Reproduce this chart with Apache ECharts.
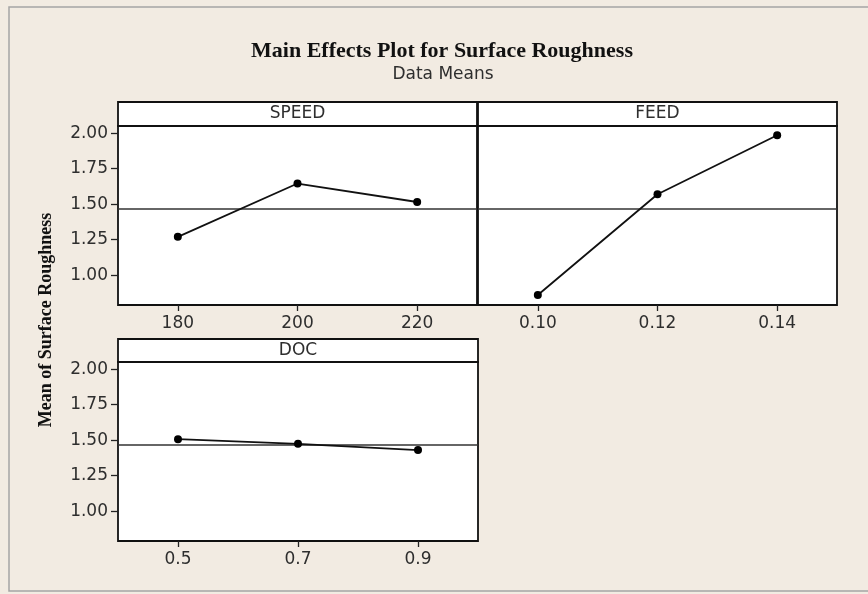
<!DOCTYPE html>
<html>
<head>
<meta charset="utf-8">
<script src="https://cdn.jsdelivr.net/npm/echarts@6/dist/echarts.min.js"></script>
<style>
  html, body { margin: 0; padding: 0; background: #f2ebe2; }
  #chart { width: 868px; height: 594px; }
</style>
</head>
<body>
<div id="chart"></div>
<script>
// factor levels and the mean response at each level
const speedLevels = ['180', '200', '220'];
const speedMeans = [1.27, 1.645, 1.515];
const feedLevels = ['0.10', '0.12', '0.14'];
const feedMeans = [0.86, 1.57, 1.985];
const docLevels = ['0.5', '0.7', '0.9'];
const docMeans = [1.507, 1.474, 1.43];
// grand mean (reference line) and y tick values
const grandMean = 1.472;
const yTicks = [1.00, 1.25, 1.50, 1.75, 2.00];

const FONT = 'DejaVu Sans';
const TXT = '#2e2e2e';

// panel layout: grid box + strip header above it
const panels = [
  {name: 'SPEED', levels: speedLevels, means: speedMeans, left: 118, top: 126, width: 359, height: 179, strip: 24, yLabels: true},
  {name: 'FEED', levels: feedLevels, means: feedMeans, left: 478, top: 126, width: 359, height: 179, strip: 24, yLabels: false},
  {name: 'DOC', levels: docLevels, means: docMeans, left: 118, top: 362, width: 360, height: 179, strip: 23, yLabels: true}
];

const myChart = echarts.init(document.getElementById('chart'));

const grids = panels.map(p => ({
  left: p.left, top: p.top, width: p.width, height: p.height,
  show: true, backgroundColor: '#fff', borderColor: '#111', borderWidth: 1.8
}));

const xAxes = panels.map((p, i) => ({
  type: 'category',
  gridIndex: i,
  data: p.levels,
  boundaryGap: true,
  axisLine: {show: false},
  axisTick: {show: true, alignWithLabel: true, length: 6, lineStyle: {color: '#222', width: 1.3}},
  axisLabel: {color: TXT, fontFamily: FONT, fontSize: 17, margin: 10},
  splitLine: {show: false}
}));

const yAxes = panels.map((p, i) => ({
  type: 'value',
  gridIndex: i,
  min: 0.79,
  max: 2.05,
  axisLine: {show: false},
  axisTick: {show: p.yLabels, length: 7, customValues: yTicks, lineStyle: {color: '#222', width: 1.3}},
  axisLabel: {
    show: p.yLabels, customValues: yTicks, color: TXT, fontFamily: FONT, fontSize: 17, margin: 10,
    formatter: v => v.toFixed(2)
  },
  splitLine: {show: false}
}));

const series = panels.map((p, i) => ({
  type: 'line',
  name: p.name,
  xAxisIndex: i,
  yAxisIndex: i,
  data: p.means,
  symbol: 'circle',
  symbolSize: 8,
  itemStyle: {color: '#000'},
  lineStyle: {color: '#111', width: 1.8},
  silent: true,
  z: 3,
  markLine: {
    silent: true,
    symbol: 'none',
    label: {show: false},
    lineStyle: {color: '#333', width: 1.5, type: 'solid'},
    data: [{yAxis: grandMean}],
    z: 2
  }
}));

// strip headers
const strips = [];
panels.forEach(p => {
  strips.push({
    type: 'rect',
    shape: {x: p.left, y: p.top - p.strip, width: p.width, height: p.strip},
    style: {fill: '#fff', stroke: '#111', lineWidth: 1.8}
  });
  strips.push({
    type: 'text',
    x: p.left + p.width / 2,
    y: p.top - p.strip / 2,
    style: {text: p.name, fill: TXT, font: '17px "DejaVu Sans"', textAlign: 'center', textVerticalAlign: 'middle'}
  });
});

const option = {
  backgroundColor: '#f2ebe2',
  animation: false,
  grid: grids,
  xAxis: xAxes,
  yAxis: yAxes,
  series: series,
  graphic: [
    // outer frame
    {type: 'rect', shape: {x: 9, y: 7, width: 880, height: 584}, style: {fill: 'none', stroke: '#a5a5a5', lineWidth: 1.5}, z: -1},
    {
      type: 'text', x: 442, y: 51,
      style: {text: 'Main Effects Plot for Surface Roughness', fill: '#111', font: 'bold 22px "Liberation Serif"', textAlign: 'center', textVerticalAlign: 'middle'}
    },
    {
      type: 'text', x: 443, y: 75,
      style: {text: 'Data Means', fill: TXT, font: '17px "DejaVu Sans"', textAlign: 'center', textVerticalAlign: 'middle'}
    },
    {
      type: 'text', x: 46, y: 320, rotation: Math.PI / 2,
      style: {text: 'Mean of Surface Roughness', fill: '#111', font: 'bold 18px "Liberation Serif"', textAlign: 'center', textVerticalAlign: 'middle'}
    },
    ...strips
  ]
};
myChart.setOption(option);
</script>
</body>
</html>
